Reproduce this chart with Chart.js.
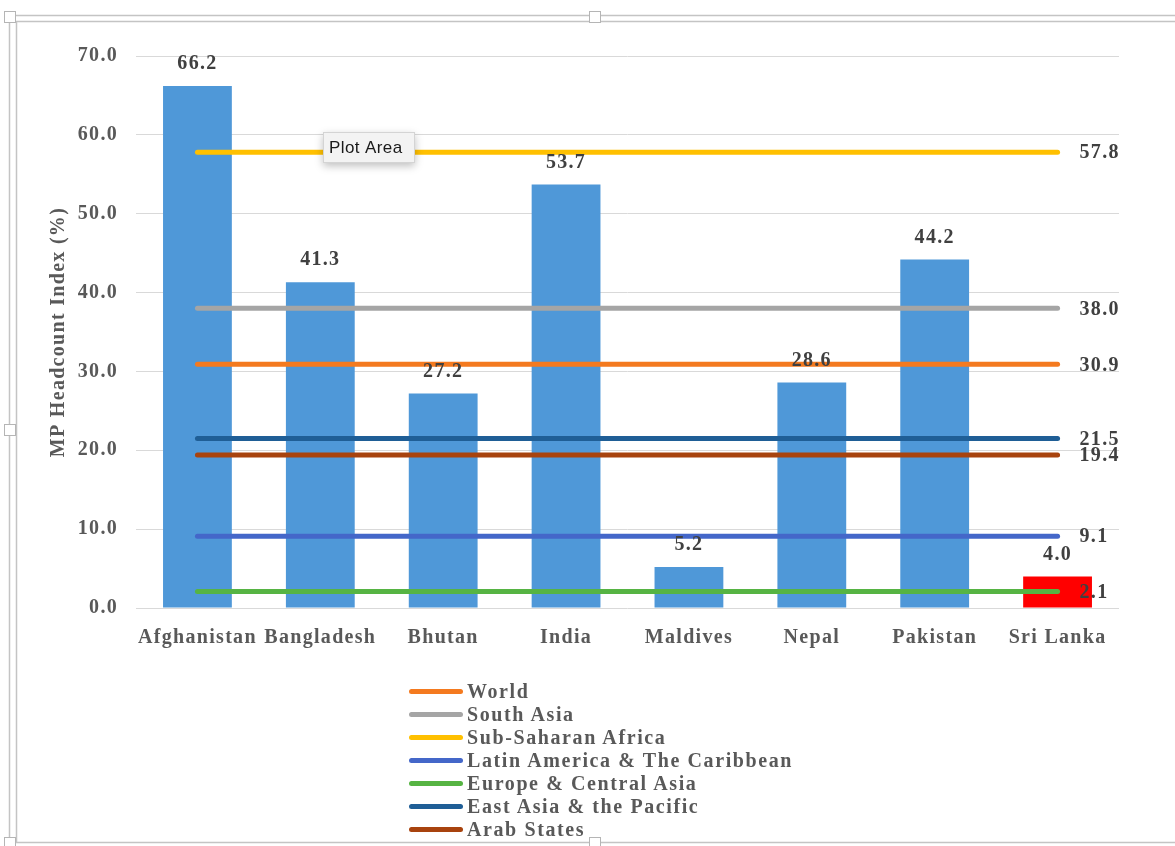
<!DOCTYPE html>
<html>
<head>
<meta charset="utf-8">
<script src="https://cdn.jsdelivr.net/npm/chart.js@4/dist/chart.umd.min.js"></script>
<style>
  html, body { margin: 0; padding: 0; background: #ffffff; }
  #wrap { position: relative; width: 1175px; height: 846px; overflow: hidden; }
  #chart { position: absolute; left: 0; top: 0; }
  #legend { position: absolute; left: 409px; top: 680px; font-family: "Liberation Serif", "Times New Roman", serif;
            font-weight: bold; font-size: 20px; letter-spacing: 1.6px; color: #595959; }
  .row { display: flex; align-items: center; height: 23px; line-height: 23px; white-space: nowrap; }
  .sw { width: 54px; height: 5px; border-radius: 3px; margin-right: 4px; flex: none; }
</style>
</head>
<body>
<div id="wrap">
  <canvas id="chart" width="1175" height="846"></canvas>
  <div id="legend"></div>
</div>
<script>
const categories = ['Afghanistan', 'Bangladesh', 'Bhutan', 'India', 'Maldives', 'Nepal', 'Pakistan', 'Sri Lanka'];
const headcount = [66.2, 41.3, 27.2, 53.7, 5.2, 28.6, 44.2, 4.0];
const regions = ['World', 'South Asia', 'Sub-Saharan Africa', 'Latin America & The Caribbean',
                 'Europe & Central Asia', 'East Asia & the Pacific', 'Arab States'];
const regionValues = [30.9, 38.0, 57.8, 9.1, 2.1, 21.5, 19.4];
const yTickValues = [0, 10, 20, 30, 40, 50, 60, 70];

const regionColors = ['#F47A1F', '#A5A5A5', '#FFC000', '#4467C9', '#56B443', '#1F5E96', '#A8430E'];
const barColors = categories.map(c => c === 'Sri Lanka' ? '#FF0000' : '#4F98D8');

const FONT = '"Liberation Serif", "Times New Roman", serif';
const LS = '1.3px';

const datasets = [{
  type: 'bar',
  label: 'MP Headcount Index',
  data: headcount,
  backgroundColor: barColors,
  categoryPercentage: 1.0,
  barPercentage: 0.56,
  order: 2
}];
regions.forEach((r, i) => {
  datasets.push({
    type: 'line',
    label: r,
    data: [{ x: categories[0], y: regionValues[i] }, { x: categories[categories.length - 1], y: regionValues[i] }],
    borderColor: regionColors[i],
    backgroundColor: regionColors[i],
    borderWidth: 5,
    borderCapStyle: 'round',
    pointRadius: 0,
    pointHoverRadius: 0,
    fill: false,
    order: 1
  });
});

const spacingPlugin = {
  id: 'spacing',
  beforeDraw(chart) { chart.ctx.letterSpacing = LS; }
};

const labelsPlugin = {
  id: 'valueLabels',
  afterDatasetsDraw(chart) {
    const ctx = chart.ctx;
    ctx.save();
    ctx.letterSpacing = LS;
    ctx.font = 'bold 20px ' + FONT;
    ctx.fillStyle = '#404040';
    ctx.textBaseline = 'middle';
    const barMeta = chart.getDatasetMeta(0);
    ctx.textAlign = 'center';
    barMeta.data.forEach((el, i) => {
      ctx.fillText(headcount[i].toFixed(1), el.x, el.y - 22);
    });
    ctx.textAlign = 'left';
    for (let d = 1; d < chart.data.datasets.length; d++) {
      const meta = chart.getDatasetMeta(d);
      const last = meta.data[meta.data.length - 1];
      ctx.fillText(regionValues[d - 1].toFixed(1), last.x + 22, last.y + 1);
    }
    ctx.restore();
  }
};

const framePlugin = {
  id: 'frame',
  afterDraw(chart) {
    const ctx = chart.ctx;
    ctx.save();
    ctx.letterSpacing = '0px';
    // selection frame
    ctx.strokeStyle = '#c4c4c4';
    ctx.lineWidth = 1.5;
    ctx.beginPath();
    ctx.moveTo(9, 15.5); ctx.lineTo(1175, 15.5);
    ctx.moveTo(16, 21.5); ctx.lineTo(1175, 21.5);
    ctx.moveTo(9.5, 15); ctx.lineTo(9.5, 846);
    ctx.moveTo(16.5, 21); ctx.lineTo(16.5, 842.5);
    ctx.moveTo(16, 842.5); ctx.lineTo(1175, 842.5);
    ctx.stroke();
    const handles = [[10, 17], [595, 17], [10, 430], [595, 843], [10, 843]];
    handles.forEach(([hx, hy]) => {
      ctx.fillStyle = '#ffffff';
      ctx.fillRect(hx - 6, hy - 6, 12, 12);
      ctx.strokeStyle = '#b5b5b5';
      ctx.lineWidth = 1;
      ctx.strokeRect(hx - 6 + 0.5, hy - 6 + 0.5, 11, 11);
    });
    // "Plot Area" hover tip
    ctx.shadowColor = 'rgba(0,0,0,0.25)';
    ctx.shadowBlur = 8;
    ctx.shadowOffsetY = 3;
    ctx.fillStyle = '#f3f3f3';
    ctx.fillRect(323, 132, 92, 31);
    ctx.shadowColor = 'transparent';
    ctx.strokeStyle = '#d4d4d4';
    ctx.strokeRect(323.5, 132.5, 91, 30);
    ctx.fillStyle = '#1a1a1a';
    ctx.letterSpacing = '0.4px';
    ctx.font = '17px "Liberation Sans", Arial, sans-serif';
    ctx.textBaseline = 'middle';
    ctx.textAlign = 'left';
    ctx.fillText('Plot Area', 329, 148);
    ctx.restore();
  }
};

const chart = new Chart(document.getElementById('chart'), {
  data: { labels: categories, datasets: datasets },
  options: {
    responsive: false,
    devicePixelRatio: 1,
    animation: false,
    layout: { padding: { left: 43, right: 56, top: 56, bottom: 0 } },
    plugins: { legend: { display: false }, tooltip: { enabled: false } },
    scales: {
      x: {
        type: 'category',
        grid: { display: false, drawTicks: false },
        border: { display: false },
        ticks: {
          autoSkip: false, maxRotation: 0, minRotation: 0, padding: 18,
          color: '#595959', font: { family: FONT, size: 20, weight: 'bold' }
        },
        afterFit(s) { s.height = 238; }
      },
      y: {
        min: 0, max: 70,
        afterBuildTicks(s) { s.ticks = yTickValues.map(v => ({ value: v })); },
        grid: { color: '#d9d9d9', lineWidth: 1, drawTicks: false },
        border: { display: false },
        ticks: {
          padding: 18, color: '#595959',
          font: { family: FONT, size: 20, weight: 'bold' },
          callback: v => Number(v).toFixed(1)
        },
        title: {
          display: true, text: 'MP Headcount Index (%)', color: '#595959',
          font: { family: FONT, size: 20, weight: 'bold' }, padding: { top: 4, bottom: 4 }
        },
        afterFit(s) { s.width = 93; }
      }
    }
  },
  plugins: [spacingPlugin, labelsPlugin, framePlugin]
});

// HTML legend built from the chart's line datasets
const legendEl = document.getElementById('legend');
chart.data.datasets.filter(d => d.type === 'line').forEach(d => {
  const row = document.createElement('div');
  row.className = 'row';
  const sw = document.createElement('span');
  sw.className = 'sw';
  sw.style.background = d.borderColor;
  const tx = document.createElement('span');
  tx.textContent = d.label;
  row.appendChild(sw); row.appendChild(tx);
  legendEl.appendChild(row);
});
</script>
</body>
</html>
